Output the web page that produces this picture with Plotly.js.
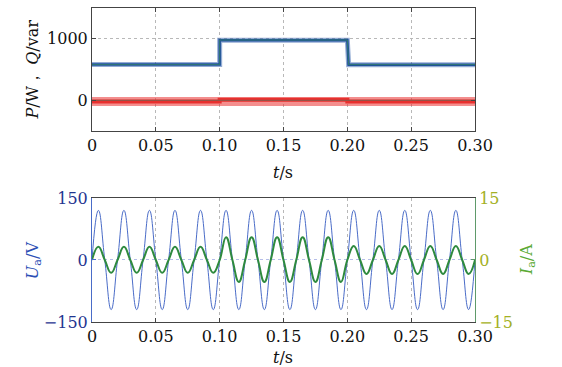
<!DOCTYPE html>
<html>
<head>
<meta charset="utf-8">
<script src="https://cdn.plot.ly/plotly-3.0.1.min.js"></script>
<style>html,body{margin:0;padding:0;background:#fff}#chart{width:562px;height:367px}</style>
</head>
<body>
<div id="chart"></div>
<script>
// ---- Top panel data: active power P and reactive power Q (step levels)
var stepT   = [0, 0.100, 0.100, 0.200, 0.201, 0.300];
var pLevels = [580, 580, 975, 975, 578, 578];
var pRef    = [580, 580, 980, 980, 580, 580];
var qT      = [0, 0.100, 0.100, 0.200, 0.200, 0.300];
var qLevels = [-20, -20, 8, 8, -18, -18];
var qRef    = [0, 0, 0, 0, 0, 0];

// ---- Bottom panel data: 50 Hz phase-a voltage and current, peak of each half cycle
var halfCycleMid = [0.005,0.015,0.025,0.035,0.045,0.055,0.065,0.075,0.085,0.095,
                    0.105,0.115,0.125,0.135,0.145,0.155,0.165,0.175,0.185,0.195,
                    0.205,0.215,0.225,0.235,0.245,0.255,0.265,0.275,0.285,0.295];
var zeroCross    = [0,0.010,0.020,0.030,0.040,0.050,0.060,0.070,0.080,0.090,0.100,
                    0.110,0.120,0.130,0.140,0.150,0.160,0.170,0.180,0.190,0.200,
                    0.210,0.220,0.230,0.240,0.250,0.260,0.270,0.280,0.290,0.300];
var uPeaks = [120,-120,120,-120,120,-120,120,-120,120,-120,
              120,-120,120,-120,120,-120,120,-120,120,-120,
              120,-120,120,-120,120,-120,120,-120,120,-120];
var iPeaks = [3.2,-3.1,3.2,-3.1,3.2,-3.1,3.2,-3.1,3.2,-3.1,
              5.5,-5.3,5.5,-5.3,5.5,-5.3,5.5,-5.3,5.5,-5.3,
              3.4,-3.4,3.4,-3.4,3.4,-3.4,3.4,-3.4,3.4,-3.4];

var xTickVals = [0,0.05,0.10,0.15,0.20,0.25,0.30];
var xTickText = ['0','0.05','0.10','0.15','0.20','0.25','0.30'];

function wave(peaks){
  var t=[], v=[];
  for (var k=0;k<peaks.length;k++){
    t.push(zeroCross[k]); v.push(0);
    t.push(halfCycleMid[k]); v.push(peaks[k]);
  }
  t.push(zeroCross[zeroCross.length-1]); v.push(0);
  return {t:t, v:v};
}
var U = wave(uPeaks), I = wave(iPeaks);

var FONT = 'DejaVu Serif';
var FS = 16;
var traces = [
  {x:stepT, y:pLevels, xaxis:'x', yaxis:'y', mode:'lines', line:{color:'rgba(40,90,170,0.5)', width:5}},
  {x:stepT, y:pLevels, xaxis:'x', yaxis:'y', mode:'lines', line:{color:'#1f4f9e', width:2.5}},
  {x:stepT, y:pRef, xaxis:'x', yaxis:'y', mode:'lines', line:{color:'rgba(60,150,80,0.6)', width:1}},
  {x:qT, y:qLevels, xaxis:'x', yaxis:'y', mode:'lines', line:{color:'rgba(235,50,50,0.55)', width:9}},
  {x:qT, y:qLevels, xaxis:'x', yaxis:'y', mode:'lines', line:{color:'#e8302e', width:4}},
  {x:qT, y:qRef, xaxis:'x', yaxis:'y', mode:'lines', line:{color:'rgba(90,110,90,0.7)', width:1}},
  {x:U.t, y:U.v, xaxis:'x2', yaxis:'y2', mode:'lines', line:{color:'#4a6cc8', width:1, shape:'spline', smoothing:1.3}},
  {x:I.t, y:I.v, xaxis:'x2', yaxis:'y3', mode:'lines', line:{color:'#2e8a3e', width:2, shape:'spline', smoothing:1.3}}
];

var axX = {range:[0,0.3], tickvals:xTickVals, ticktext:xTickText, showgrid:true, griddash:'dot', gridcolor:'#b8b8b8',
  showline:true, linecolor:'#444', linewidth:1, mirror:'ticks', ticks:'inside', ticklen:4, tickcolor:'#444',
  tickfont:{family:FONT, size:FS, color:'#111'}, zeroline:false, fixedrange:true};

var layout = {
  width:562, height:367, margin:{l:92, r:87, t:8, b:45}, showlegend:false,
  paper_bgcolor:'#fff', plot_bgcolor:'#fff', font:{family:FONT, size:FS},
  xaxis: Object.assign({}, axX, {domain:[0,1], anchor:'y'}),
  yaxis: {domain:[0.608,1], range:[-500,1500], tickvals:[0,1000], ticktext:['0','1000'], showgrid:true, griddash:'dot', gridcolor:'#b8b8b8',
    showline:true, linecolor:'#444', mirror:'ticks', ticks:'inside', ticklen:4, tickcolor:'#444', zeroline:false,
    tickfont:{family:FONT, size:FS, color:'#111'}, anchor:'x'},
  xaxis2: Object.assign({}, axX, {domain:[0,1], anchor:'y2', mirror:true}),
  yaxis2: {domain:[0,0.395], range:[-150,150], tickvals:[-150,0,150], ticktext:['\u2212150','0','150'], showgrid:true, griddash:'dot', gridcolor:'#b5bde8',
    showline:true, linecolor:'#4a6cc8', mirror:false, ticks:'inside', ticklen:4, tickcolor:'#4a6cc8', zeroline:false,
    tickfont:{family:FONT, size:FS, color:'#1f3590'}, anchor:'x2'},
  yaxis3: {overlaying:'y2', side:'right', range:[-15,15], tickvals:[-15,0,15], ticktext:['\u221215','0','15'], showgrid:false,
    showline:true, linecolor:'#5f9a6a', ticks:'inside', ticklen:4, tickcolor:'#5f9a6a', zeroline:false,
    tickfont:{family:FONT, size:FS, color:'#a3b025'}, anchor:'x2'},
  annotations:[
    {xref:'paper', yref:'paper', x:(33-92)/383, y:0.804, text:'<i>P</i>/W\uFF0C <i>Q</i>/var', textangle:-90, showarrow:false,
     font:{family:FONT, size:FS, color:'#111'}, xanchor:'center', yanchor:'middle'},
    {xref:'paper', yref:'paper', x:0.498, y:(322-172)/314, text:'<i>t</i>/s', showarrow:false,
     font:{family:FONT, size:FS, color:'#111'}, xanchor:'center', yanchor:'middle'},
    {xref:'paper', yref:'paper', x:0.498, y:(322-357)/314, text:'<i>t</i>/s', showarrow:false,
     font:{family:FONT, size:FS, color:'#111'}, xanchor:'center', yanchor:'middle'},
    {xref:'paper', yref:'paper', x:(33-92)/383, y:0.197, text:'<i>U</i><sub>a</sub>/V', textangle:-90, showarrow:false,
     font:{family:FONT, size:FS, color:'#2d4fb5'}, xanchor:'center', yanchor:'middle'},
    {xref:'paper', yref:'paper', x:(527-92)/383, y:0.197, text:'<i>I</i><sub>a</sub>/A', textangle:-90, showarrow:false,
     font:{family:FONT, size:FS, color:'#5aaa35'}, xanchor:'center', yanchor:'middle'}
  ]
};
Plotly.newPlot('chart', traces, layout, {staticPlot:true, displayModeBar:false});
</script>
</body>
</html>
